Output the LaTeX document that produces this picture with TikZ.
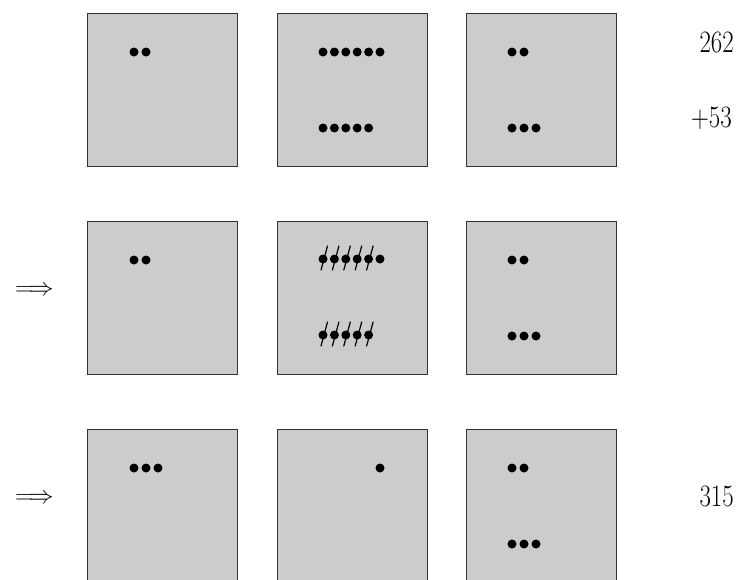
\documentclass[tikz,border=0pt]{standalone}
\usepackage{graphicx}
\definecolor{boxgray}{HTML}{CCCCCC}
\definecolor{boxedge}{HTML}{333333}
\tikzset{
  panel/.style={draw=boxedge, fill=boxgray, line width=1.1pt, minimum width=150pt, minimum height=153pt, inner sep=0pt, anchor=north west},
  bead/.style={circle, fill=black, minimum size=9pt, inner sep=0pt},
  strike/.style={line width=1.2pt, line cap=round},
  numtxt/.style={anchor=east, inner sep=0pt, font=\fontsize{27}{32}\selectfont},
  arrtxt/.style={inner sep=0pt, font=\fontsize{27}{32}\selectfont}
}
\newcommand{\tallt}[1]{\scalebox{1}[1.25]{#1}}
\begin{document}
\begin{tikzpicture}[x=1pt,y=-1pt]
\useasboundingbox (0,0) rectangle (739,579);
\clip (0,0) rectangle (739,579);
% panels
\foreach \r/\ty in {1/13,2/221,3/429}{
  \foreach \c/\lx in {1/87,2/277,3/466}{
    \node[panel] (b\r\c) at (\lx,\ty) {};
  }
}
% row 1
\foreach \i in {0,1} \node[bead] (d11a\i) at (134+12*\i,52) {};
\foreach \i in {0,...,5} \node[bead] (d12a\i) at (323+11.4*\i,52) {};
\foreach \i in {0,...,4} \node[bead] (d12b\i) at (323+11.4*\i,128) {};
\foreach \i in {0,1} \node[bead] (d13a\i) at (512+12*\i,52) {};
\foreach \i in {0,1,2} \node[bead] (d13b\i) at (512+12*\i,128) {};
% row 2
\foreach \i in {0,1} \node[bead] (d21a\i) at (134+12*\i,260) {};
\foreach \i in {0,...,5} \node[bead] (d22a\i) at (323+11.4*\i,259) {};
\foreach \i in {0,...,4} \node[bead] (d22b\i) at (323+11.4*\i,335) {};
\foreach \i in {0,...,4} \draw[strike] ([shift={(-2,11)}]d22a\i.center) -- ([shift={(4.5,-13)}]d22a\i.center);
\foreach \i in {0,...,4} \draw[strike] ([shift={(-2,11)}]d22b\i.center) -- ([shift={(4.5,-13)}]d22b\i.center);
\foreach \i in {0,1} \node[bead] (d23a\i) at (512+12*\i,260) {};
\foreach \i in {0,1,2} \node[bead] (d23b\i) at (512+12*\i,336) {};
% row 3
\foreach \i in {0,1,2} \node[bead] (d31a\i) at (134+12*\i,468) {};
\node[bead] (d32a5) at (380,468) {};
\foreach \i in {0,1} \node[bead] (d33a\i) at (512+12*\i,468) {};
\foreach \i in {0,1,2} \node[bead] (d33b\i) at (512+12*\i,544) {};
% numbers
\node[numtxt] (n262) at (734,42) {\tallt{$262$}};
\node[numtxt] (n53) at (732,118) {\tallt{$+53$}};
\node[numtxt] (n315) at (734,496) {\tallt{$315$}};
% arrows
\node[arrtxt] (a2) at (34.5,291) {$\Longrightarrow$};
\node[arrtxt] (a3) at (34.5,499) {$\Longrightarrow$};
\end{tikzpicture}
\end{document}
